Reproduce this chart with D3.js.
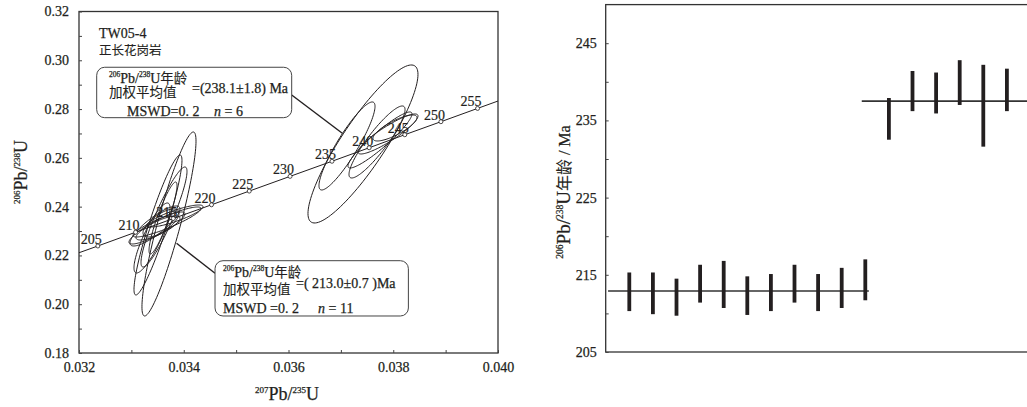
<!DOCTYPE html>
<html>
<head>
<meta charset="utf-8">
<script src="https://cdn.jsdelivr.net/npm/d3@7/dist/d3.min.js"></script>
<style>
  body { margin: 0; background: #fff; }
  svg { display: block; }
  text { font-family: 'Liberation Serif', 'Times New Roman', serif; }
</style>
</head>
<body>
<div id="chart"></div>
<script>
// ---------- left panel: concordia diagram ----------
const xTicks = [0.032, 0.033, 0.034, 0.035, 0.036, 0.037, 0.038, 0.039, 0.040]
const xTickLabels = ['0.032', '', '0.034', '', '0.036', '', '0.038', '', '0.040']
const yTicks = [0.18, 0.19, 0.2, 0.21, 0.22, 0.23, 0.24, 0.25, 0.26, 0.27, 0.28, 0.29, 0.3, 0.31, 0.32]
const yTickLabels = ['0.18', '', '0.20', '', '0.22', '', '0.24', '', '0.26', '', '0.28', '', '0.30', '', '0.32']

// concordia age marks
const concordiaAges = [205, 210, 215, 220, 225, 230, 235, 240, 245, 250, 255]
const concordiaX = [0.03236, 0.03308, 0.0338, 0.03453, 0.03525, 0.03603, 0.03683, 0.03754, 0.03822, 0.03891, 0.03961]
const concordiaY = [0.22387, 0.2295, 0.23512, 0.24076, 0.24637, 0.25241, 0.2586, 0.26414, 0.26948, 0.27482, 0.28027]
// where the curve meets the frame
const concordiaEndX = [0.032, 0.04]
const concordiaEndY = [0.2211, 0.2833]

// error ellipses: centre, half extents, correlation
const ellipseCx = [0.033718, 0.033508, 0.033623, 0.03368, 0.033508, 0.033451, 0.033566, 0.033394, 0.033604, 0.033489, 0.033833,
  0.037422, 0.037117, 0.03769, 0.0379, 0.038033, 0.037747]
const ellipseCy = [0.23289, 0.23248, 0.23576, 0.23371, 0.23125, 0.23207, 0.2333, 0.22715, 0.23535, 0.23125, 0.23617,
  0.26569, 0.26487, 0.26651, 0.26979, 0.27225, 0.26733]
const ellipseSx = [0.000516, 0.000458, 0.000439, 0.000649, 0.00042, 0.000477, 0.000344, 0.000344, 0.000267, 0.000535, 0.000535,
  0.00105, 0.000535, 0.000535, 0.000573, 0.00042, 0.000611]
const ellipseSy = [0.03772, 0.0287, 0.0205, 0.00615, 0.00492, 0.0082, 0.00574, 0.01435, 0.01476, 0.00656, 0.00451,
  0.03239, 0.01804, 0.01476, 0.0082, 0.00533, 0.01148]
const ellipseRho = [0.9, 0.92, 0.91, 0.9, 0.8, 0.85, 0.7, 0.85, 0.9, 0.88, 0.85,
  0.88, 0.9, 0.9, 0.9, 0.8, 0.93]

// ---------- right panel: weighted mean ages ----------
const ageTicks = [205, 210, 215, 220, 225, 230, 235, 240, 245]
const ageTickLabels = ['205', '', '215', '', '225', '', '235', '', '245']
const spotAgeHigh = [215.3, 215.3, 214.5, 216.3, 216.8, 214.8, 215.1, 216.3, 215.1, 215.9, 217.0,
  237.9, 241.4, 241.2, 242.8, 242.2, 241.7]
const spotAgeLow = [210.3, 209.9, 209.7, 211.4, 210.7, 209.8, 210.3, 211.4, 210.3, 210.7, 211.7,
  232.5, 236.2, 235.9, 237.0, 231.6, 236.2]
const groupMean = [212.9, 237.5]
const groupFrom = [0.1, 10.85]
const groupTo = [11.15, 18]

const W = 1027
const H = 407
const serif = "'Liberation Serif', 'Times New Roman', serif"
const cjk = "'Noto Sans CJK SC', sans-serif"
const ink = '#231f20'

const svg = d3.select('#chart').append('svg').attr('width', W).attr('height', H)

// text with superscripts, parts = [{t, size, sup, italic, cjk}]
function richText(parent, x, y, parts, anchor) {
  const text = parent
    .append('text')
    .attr('x', x)
    .attr('y', y)
    .attr('fill', ink)
    .attr('stroke', ink)
    .attr('stroke-width', 0.25)
    .attr('text-anchor', anchor || 'start')
  let shift = 0
  parts.forEach((p) => {
    const ts = text.append('tspan').text(p.t).attr('font-size', p.size)
      .style('font-family', p.cjk ? cjk : serif)
    const want = p.sup ? -p.size * 0.75 : 0
    if (want !== shift) ts.attr('dy', want - shift)
    shift = want
    if (p.italic) ts.attr('font-style', 'italic')
    if (p.cjk) ts.attr('stroke-width', 0.1)
  })
  return text
}

// ================= left chart =================
const L = { left: 79, right: 498, top: 11.5, bottom: 353 }
const xScale = d3.scaleLinear().domain([0.032, 0.04]).range([L.left, L.right])
const yScale = d3.scaleLinear().domain([0.18, 0.32]).range([L.bottom, L.top])

svg.append('defs')
  .append('clipPath')
  .attr('id', 'clipLeft')
  .append('rect')
  .attr('x', L.left)
  .attr('y', L.top)
  .attr('width', L.right - L.left)
  .attr('height', L.bottom - L.top)

const left = svg.append('g')

left.append('rect')
  .attr('x', L.left)
  .attr('y', L.top)
  .attr('width', L.right - L.left)
  .attr('height', L.bottom - L.top)
  .attr('fill', 'none')
  .attr('stroke', '#333')
  .attr('stroke-width', 1.3)

const styleTicks = (g) => {
  g.attr('font-family', null)
  g.select('.domain').remove()
  g.selectAll('.tick line').attr('stroke', '#444')
  g.selectAll('.tick text')
    .attr('fill', ink)
    .attr('stroke', ink)
    .attr('stroke-width', 0.25)
    .attr('font-size', '14px')
    .style('font-family', serif)
}

left.append('g')
  .attr('transform', `translate(0,${L.bottom})`)
  .call(d3.axisBottom(xScale).tickValues(xTicks).tickSizeInner(-3).tickSizeOuter(0).tickPadding(9)
    .tickFormat((d, i) => xTickLabels[i]))
  .call(styleTicks)

left.append('g')
  .attr('transform', `translate(${L.left},0)`)
  .call(d3.axisLeft(yScale).tickValues(yTicks).tickSizeInner(-3).tickSizeOuter(0).tickPadding(10)
    .tickFormat((d, i) => yTickLabels[i]))
  .call(styleTicks)

// axis titles
richText(left, 287, 400, [
  { t: '207', size: 9, sup: true }, { t: 'Pb/', size: 18 },
  { t: '235', size: 9, sup: true }, { t: 'U', size: 18 }
], 'middle')

richText(left.append('g').attr('transform', 'translate(27,172) rotate(-90)'), 0, 0, [
  { t: '206', size: 9, sup: true }, { t: 'Pb/', size: 18 },
  { t: '238', size: 9, sup: true }, { t: 'U', size: 18 }
], 'middle')

const inner = left.append('g').attr('clip-path', 'url(#clipLeft)')

// concordia curve
const lineX = [concordiaEndX[0], ...concordiaX, concordiaEndX[1]]
const lineY = [concordiaEndY[0], ...concordiaY, concordiaEndY[1]]
inner.append('path')
  .attr('d', d3.line().x((d) => xScale(d[0])).y((d) => yScale(d[1]))(lineX.map((x, i) => [x, lineY[i]])))
  .attr('fill', 'none')
  .attr('stroke', ink)
  .attr('stroke-width', 1)

// error ellipses
const ellipse = (i) => {
  const r = ellipseRho[i]
  const k = Math.sqrt(1 - r * r)
  return d3.range(0, 121).map((j) => {
    const a = (j / 120) * 2 * Math.PI
    return [
      xScale(ellipseCx[i] + ellipseSx[i] * Math.cos(a)),
      yScale(ellipseCy[i] + ellipseSy[i] * (r * Math.cos(a) + k * Math.sin(a)))
    ]
  })
}
inner.selectAll('.ellipse')
  .data(ellipseCx.map((d, i) => i))
  .join('path')
  .attr('class', 'ellipse')
  .attr('d', (i) => d3.line().curve(d3.curveLinearClosed)(ellipse(i)))
  .attr('fill', 'none')
  .attr('stroke', ink)
  .attr('stroke-width', 1)

// age marks on the concordia
inner.selectAll('.age-mark')
  .data(concordiaAges)
  .join('circle')
  .attr('class', 'age-mark')
  .attr('cx', (d, i) => xScale(concordiaX[i]))
  .attr('cy', (d, i) => yScale(concordiaY[i]))
  .attr('r', 2)
  .attr('fill', '#fff')
  .attr('stroke', ink)
  .attr('stroke-width', 0.8)

inner.selectAll('.age-label')
  .data(concordiaAges)
  .join('text')
  .attr('class', 'age-label')
  .attr('x', (d, i) => xScale(concordiaX[i]) + 4)
  .attr('y', (d, i) => yScale(concordiaY[i]) - 2)
  .attr('text-anchor', 'end')
  .attr('font-size', '14px')
  .attr('fill', ink)
  .attr('stroke', ink)
  .attr('stroke-width', 0.2)
  .style('font-family', serif)
  .text((d) => d)

// sample name
richText(left, 99, 38, [{ t: 'TW05-4', size: 14 }])
richText(left, 99, 55, [{ t: '正长花岗岩', size: 12.5, cjk: true }])

// result boxes and leader lines (anchored in data units)
const boxes = [
  { x0: 0.032338, x1: 0.036061, y0: 0.29714, y1: 0.27647, from: [0.036061, 0.28578], to: [0.037027, 0.27008] },
  { x0: 0.034597, x1: 0.038289, y0: 0.21784, y1: 0.19517, from: [0.034597, 0.21268], to: [0.033863, 0.22498] }
]
boxes.forEach((b) => {
  left.append('line')
    .attr('x1', xScale(b.from[0])).attr('y1', yScale(b.from[1]))
    .attr('x2', xScale(b.to[0])).attr('y2', yScale(b.to[1]))
    .attr('stroke', ink).attr('stroke-width', 1.4)
  left.append('rect')
    .attr('x', xScale(b.x0)).attr('y', yScale(b.y0))
    .attr('width', xScale(b.x1) - xScale(b.x0)).attr('height', yScale(b.y1) - yScale(b.y0))
    .attr('rx', 8)
    .attr('fill', '#fff').attr('stroke', '#444').attr('stroke-width', 1)
})

// upper box text
richText(left, 109, 83, [
  { t: '206', size: 7.5, sup: true }, { t: 'Pb/', size: 14 }, { t: '238', size: 7.5, sup: true },
  { t: 'U', size: 14 }, { t: '年龄', size: 13.5, cjk: true }
])
richText(left, 109, 97, [{ t: '加权平均值', size: 13.5, cjk: true }])
richText(left, 192, 93, [{ t: '=(238.1±1.8) Ma', size: 14 }])
richText(left, 127, 115.5, [{ t: 'MSWD=0. 2', size: 14 }])
richText(left, 214, 115.5, [{ t: 'n', size: 14, italic: true }, { t: ' = 6', size: 14 }])

// lower box text
richText(left, 223, 276.5, [
  { t: '206', size: 7.5, sup: true }, { t: 'Pb/', size: 14 }, { t: '238', size: 7.5, sup: true },
  { t: 'U', size: 14 }, { t: '年龄', size: 13.5, cjk: true }
])
richText(left, 223, 293.5, [{ t: '加权平均值', size: 13.5, cjk: true }])
richText(left, 296, 288, [{ t: '=( 213.0±0.7 )Ma', size: 14 }])
richText(left, 223, 312.5, [{ t: 'MSWD =0. 2', size: 14 }])
richText(left, 318, 312.5, [{ t: 'n', size: 14, italic: true }, { t: ' = 11', size: 14 }])

// ================= right chart =================
const R = { left: 605.7, right: 1030.5, top: 4.6, bottom: 352 }
const spotScale = d3.scaleLinear().domain([0, 18]).range([R.left, R.right])
const ageScale = d3.scaleLinear().domain([205, 250]).range([R.bottom, R.top])

const right = svg.append('g')

right.append('rect')
  .attr('x', R.left)
  .attr('y', R.top)
  .attr('width', R.right - R.left)
  .attr('height', R.bottom - R.top)
  .attr('fill', 'none')
  .attr('stroke', '#333')
  .attr('stroke-width', 1.3)

right.append('g')
  .attr('transform', `translate(${R.left},0)`)
  .call(d3.axisLeft(ageScale).tickValues(ageTicks).tickSizeInner(-3).tickSizeOuter(0).tickPadding(9)
    .tickFormat((d, i) => ageTickLabels[i]))
  .call(styleTicks)

richText(right.append('g').attr('transform', 'translate(570,192) rotate(-90)'), 0, 0, [
  { t: '206', size: 9.5, sup: true }, { t: 'Pb/', size: 19 }, { t: '238', size: 9.5, sup: true },
  { t: 'U', size: 19 }, { t: '年龄', size: 16, cjk: true }, { t: ' / Ma', size: 16 }
], 'middle')

// weighted mean lines
right.selectAll('.mean-line')
  .data(groupMean)
  .join('line')
  .attr('class', 'mean-line')
  .attr('x1', (d, i) => spotScale(groupFrom[i]))
  .attr('x2', (d, i) => Math.min(spotScale(groupTo[i]), W))
  .attr('y1', (d) => ageScale(d))
  .attr('y2', (d) => ageScale(d))
  .attr('stroke', '#333')
  .attr('stroke-width', 1.6)

// individual spot age bars
const barW = 3.8
right.selectAll('.spot-bar')
  .data(spotAgeHigh)
  .join('rect')
  .attr('class', 'spot-bar')
  .attr('x', (d, i) => spotScale(i + 1) - barW / 2)
  .attr('y', (d) => ageScale(d))
  .attr('width', barW)
  .attr('height', (d, i) => ageScale(spotAgeLow[i]) - ageScale(d))
  .attr('fill', ink)
</script>
</body>
</html>
